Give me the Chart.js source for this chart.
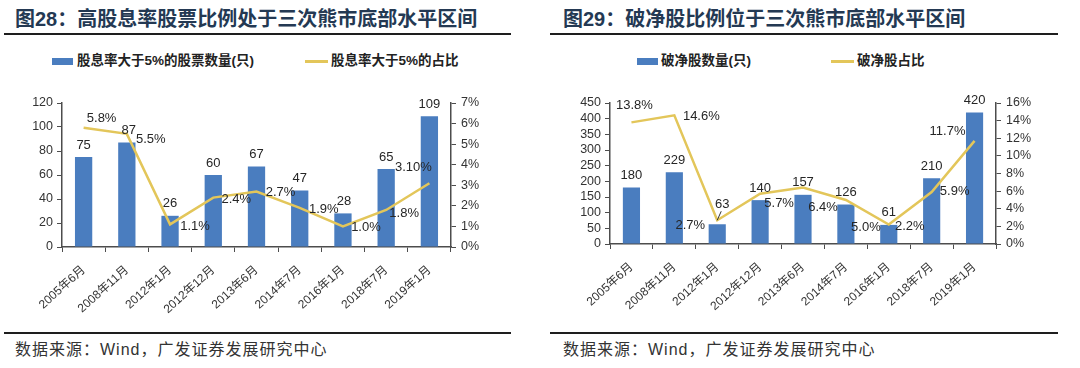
<!DOCTYPE html>
<html>
<head>
<meta charset="utf-8">
<script src="https://cdn.jsdelivr.net/npm/chart.js@4.4.1/dist/chart.umd.min.js"></script>
<style>
  body { margin: 0; background: #fff; }
  #page { position: relative; width: 1080px; height: 368px; overflow: hidden; font-family: "Liberation Sans", "Noto Sans CJK SC", sans-serif; }
  .title { position: absolute; top: 7px; font-size: 20px; line-height: 24px; font-weight: bold; color: #243953; letter-spacing: 0px; white-space: nowrap; }
  .rule { position: absolute; height: 2px; background: #1e1e1e; }
  .legend { position: absolute; top: 52px; font-size: 13.5px; line-height: 18px; font-weight: bold; color: #222; white-space: nowrap; }
  .swatch-bar { position: absolute; top: 58px; width: 21px; height: 7px; background: #4a7dbf; }
  .swatch-line { position: absolute; top: 60px; width: 23px; height: 2.5px; background: #e3c65a; }
  .chart { position: absolute; top: 80px; width: 540px; height: 240px; }
  .source { position: absolute; top: 339px; font-size: 16px; line-height: 22px; color: #333; letter-spacing: 1px; white-space: nowrap; }
</style>
</head>
<body>
<div id="page">
  <div class="title" style="left:15px">图28：高股息率股票比例处于三次熊市底部水平区间</div>
  <div class="rule" style="left:4px; top:33px; width:507px"></div>
  <div class="swatch-bar" style="left:52px"></div>
  <div class="legend" style="left:77px">股息率大于5%的股票数量(只)</div>
  <div class="swatch-line" style="left:305px"></div>
  <div class="legend" style="left:331px">股息率大于5%的占比</div>
  <div class="chart" style="left:0px"><canvas id="chart1" width="540" height="240"></canvas></div>
  <div class="rule" style="left:4px; top:332px; width:507px"></div>
  <div class="source" style="left:15px">数据来源：Wind，广发证券发展研究中心</div>

  <div class="title" style="left:563px">图29：破净股比例位于三次熊市底部水平区间</div>
  <div class="rule" style="left:550px; top:33px; width:508px"></div>
  <div class="swatch-bar" style="left:637px"></div>
  <div class="legend" style="left:661px">破净股数量(只)</div>
  <div class="swatch-line" style="left:831px"></div>
  <div class="legend" style="left:857px">破净股占比</div>
  <div class="chart" style="left:540px"><canvas id="chart2" width="540" height="240"></canvas></div>
  <div class="rule" style="left:550px; top:332px; width:508px"></div>
  <div class="source" style="left:563px">数据来源：Wind，广发证券发展研究中心</div>
</div>

<script>
// categories shared by both charts
var categories = ['2005年6月', '2008年11月', '2012年1月', '2012年12月', '2013年6月',
                  '2014年7月', '2016年1月', '2018年7月', '2019年1月'];

// chart 28: high dividend yield stocks
var dividendCount = [75, 87, 26, 60, 67, 47, 28, 65, 109];
var dividendShare = [5.8, 5.5, 1.1, 2.4, 2.7, 1.9, 1.0, 1.8, 3.1];
var dividendShareDigits = [1, 1, 1, 1, 1, 1, 1, 1, 2];

// chart 29: stocks below book value
var pbCount = [180, 229, 63, 140, 157, 126, 61, 210, 420];
var pbShare = [13.8, 14.6, 2.7, 5.7, 6.4, 5.0, 2.2, 5.9, 11.7];
var pbShareDigits = [1, 1, 1, 1, 1, 1, 1, 1, 1];

// axis ranges [min, max, step]
var dividendCountAxis = [0, 120, 20];
var dividendShareAxis = [0, 7, 1];
var pbCountAxis = [0, 450, 50];
var pbShareAxis = [0, 16, 2];

// label placement relative to each mark (dx, dy)
var dividendBarLabelPos = [[0, -12], [2, -12], [0, -12], [0, -12], [0, -12], [0, -12], [1, -12], [0, -12], [0, -12]];
var dividendLineLabelPos = [[18, -9], [24, 6], [25, 2], [23, 2], [24, 1], [24, 2], [23, 1], [18, 3], [-16, -16]];
var pbBarLabelPos = [[0, -12], [0, -12], [5, -20], [0, -12], [0, -12], [0, -12], [0, -12], [0, -12], [0, -12]];
var pbLineLabelPos = [[3, -17], [27, 1], [-27, 5], [19, 10], [20, 20], [20, 27], [21, 2], [23, -1], [-27, -9]];
var pbLeader = [false, false, true, false, false, false, false, false, false];

var barColor = '#4a7dbf';
var lineColor = '#e3c65a';
var axisColor = '#4d4d4d';
var textColor = '#262626';
var fontFamily = '"Liberation Sans", "Noto Sans CJK SC", Arial, sans-serif';

var valueLabels = {
  id: 'valueLabels',
  afterDatasetsDraw: function(chart, args, opts) {
    var ctx = chart.ctx;
    ctx.save();
    ctx.font = '13px ' + fontFamily;
    ctx.fillStyle = textColor;
    ctx.textAlign = 'center';
    ctx.textBaseline = 'middle';

    var bars = chart.getDatasetMeta(0).data;
    var barValues = chart.data.datasets[0].data;
    bars.forEach(function(bar, i) {
      var p = opts.barPos[i];
      ctx.fillText(String(barValues[i]), bar.x + p[0], bar.y + p[1]);
      if (opts.leader && opts.leader[i]) {
        ctx.strokeStyle = '#333';
        ctx.lineWidth = 1;
        ctx.beginPath();
        ctx.moveTo(bar.x, bar.y - 4);
        ctx.lineTo(bar.x + 4, bar.y - 13);
        ctx.stroke();
      }
    });

    var points = chart.getDatasetMeta(1).data;
    var lineValues = chart.data.datasets[1].data;
    points.forEach(function(pt, i) {
      var p = opts.linePos[i];
      var txt = lineValues[i].toFixed(opts.digits[i]) + '%';
      ctx.fillText(txt, pt.x + p[0], pt.y + p[1]);
    });
    ctx.restore();
  }
};

function makeChart(canvasId, counts, shares, countAxis, shareAxis, leftWidth, rightWidth, bottomHeight, labelOpts) {
  var ctx = document.getElementById(canvasId).getContext('2d');
  var gridOpts = { display: true, drawOnChartArea: false, drawTicks: true, tickLength: 5, color: axisColor, lineWidth: 1 };
  var borderOpts = { display: true, color: axisColor, width: 1.5 };
  var tickFont = { family: fontFamily, size: 12.5 };

  return new Chart(ctx, {
    type: 'bar',
    data: {
      labels: categories,
      datasets: [{
        type: 'bar',
        label: 'count',
        data: counts,
        backgroundColor: barColor,
        yAxisID: 'y',
        categoryPercentage: 0.5,
        barPercentage: 0.8,
        order: 1
      }, {
        type: 'line',
        label: 'share',
        data: shares,
        borderColor: lineColor,
        borderWidth: 2.5,
        pointRadius: 0,
        tension: 0,
        fill: false,
        yAxisID: 'y1',
        order: 0
      }]
    },
    options: {
      responsive: false,
      animation: false,
      devicePixelRatio: 1,
      layout: { padding: { top: 23, left: 0, right: 0, bottom: 0 } },
      plugins: {
        legend: { display: false },
        tooltip: { enabled: false },
        valueLabels: labelOpts
      },
      scales: {
        x: {
          grid: gridOpts,
          border: borderOpts,
          ticks: { minRotation: 42, maxRotation: 42, autoSkip: false, color: '#333', padding: 11, font: { family: fontFamily, size: 12 } },
          afterFit: function(s) { s.height = bottomHeight; }
        },
        y: {
          position: 'left',
          min: countAxis[0],
          max: countAxis[1],
          grid: gridOpts,
          border: borderOpts,
          ticks: { stepSize: countAxis[2], autoSkip: false, color: '#333', padding: 4, font: tickFont },
          afterFit: function(s) { s.width = leftWidth; }
        },
        y1: {
          position: 'right',
          min: shareAxis[0],
          max: shareAxis[1],
          grid: gridOpts,
          border: borderOpts,
          ticks: { stepSize: shareAxis[2], autoSkip: false, color: '#333', padding: 5, font: tickFont, callback: function(v) { return v + '%'; } },
          afterFit: function(s) { s.width = rightWidth; }
        }
      }
    },
    plugins: [valueLabels]
  });
}

makeChart('chart1', dividendCount, dividendShare, dividendCountAxis, dividendShareAxis, 62, 89, 73, {
  barPos: dividendBarLabelPos,
  linePos: dividendLineLabelPos,
  digits: dividendShareDigits
});

makeChart('chart2', pbCount, pbShare, pbCountAxis, pbShareAxis, 70, 84, 76, {
  barPos: pbBarLabelPos,
  linePos: pbLineLabelPos,
  digits: pbShareDigits,
  leader: pbLeader
});
</script>
</body>
</html>
